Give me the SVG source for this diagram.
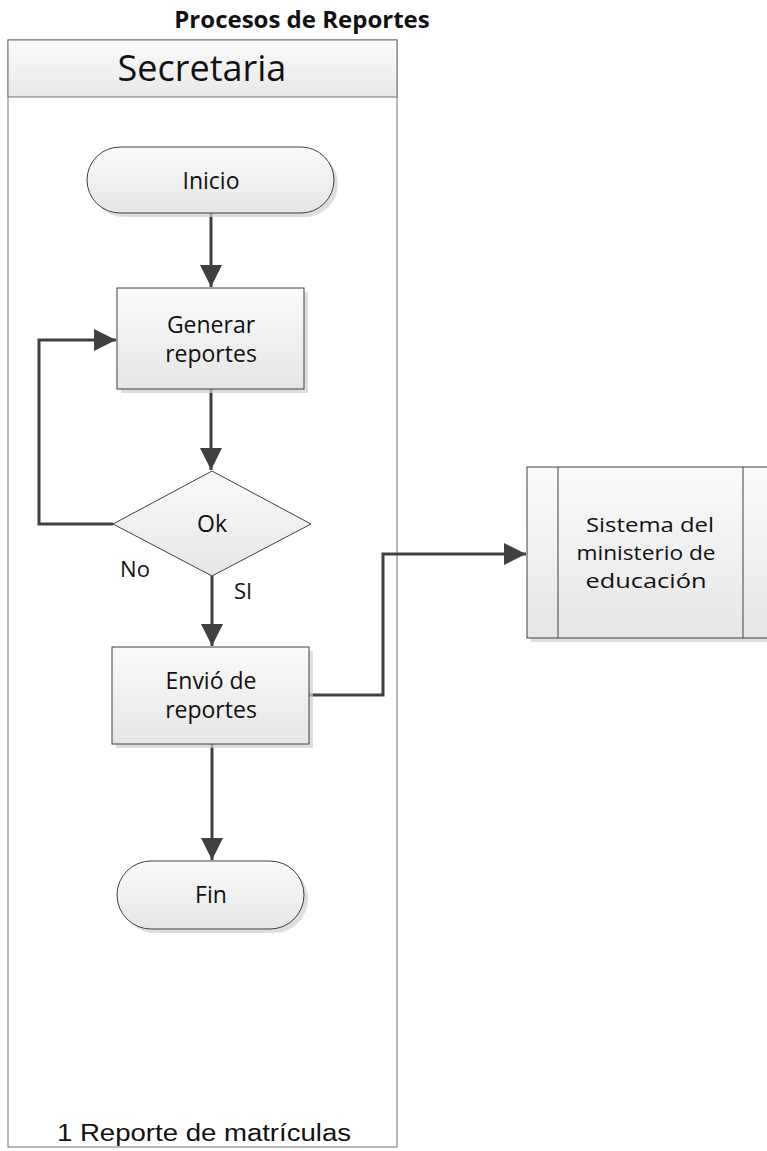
<svg xmlns="http://www.w3.org/2000/svg" width="767" height="1151" viewBox="0 0 767 1151">
  <style>
    .lbl { font-family: "Open Sans", Lato, "Liberation Sans", sans-serif; font-size: 23px; fill: #111; text-anchor: middle; }
    .shape { stroke: #404040; stroke-width: 1; fill: url(#shapeFill); }
    .shadow { fill: #d0d0d0; stroke: none; opacity: 0.7; }
    .conn { fill: none; stroke: #404040; stroke-width: 3; }
  </style>
  <defs>
    <linearGradient id="shapeFill" x1="0" y1="0" x2="0" y2="1">
      <stop offset="0" stop-color="#fafafa"/>
      <stop offset="1" stop-color="#e6e6e6"/>
    </linearGradient>
    <linearGradient id="headFill" x1="0" y1="0" x2="0" y2="1">
      <stop offset="0" stop-color="#fbfbfb"/>
      <stop offset="1" stop-color="#e8e8e8"/>
    </linearGradient>
    <marker id="arrow" viewBox="0 0 10 10" refX="10" refY="5" markerWidth="7.5" markerHeight="7.5" markerUnits="strokeWidth" orient="auto">
      <path d="M0,0 L10,5 L0,10 z" fill="#404040"/>
    </marker>
  </defs>

  <rect width="767" height="1151" fill="#ffffff"/>

  <!-- title -->
  <text x="302" y="28" font-family="'Open Sans', Lato, 'Liberation Sans', sans-serif" font-size="24" font-weight="bold" text-anchor="middle" fill="#111">Procesos de Reportes</text>

  <!-- swimlane -->
  <g id="lane">
    <rect x="8" y="40" width="389" height="1107" fill="#ffffff" stroke="#707070" stroke-width="1"/>
    <rect x="8" y="40" width="389" height="57" fill="url(#headFill)" stroke="#707070" stroke-width="1"/>
    <text x="202" y="81" font-family="'Open Sans', Lato, 'Liberation Sans', sans-serif" font-size="36" text-anchor="middle" fill="#111">Secretaria</text>
    <text x="204" y="1141" font-family="'Liberation Sans', Arial, sans-serif" font-size="23" text-anchor="middle" fill="#111" textLength="294" lengthAdjust="spacingAndGlyphs">1 Reporte de matrículas</text>
  </g>

  <!-- connectors -->
  <g id="connectors">
    <line class="conn" x1="211" y1="213" x2="211" y2="287" marker-end="url(#arrow)"/>
    <line class="conn" x1="211" y1="389" x2="211" y2="470" marker-end="url(#arrow)"/>
    <polyline class="conn" points="113,524 39,524 39,340 116,340" marker-end="url(#arrow)"/>
    <line class="conn" x1="212" y1="576" x2="212" y2="646" marker-end="url(#arrow)"/>
    <line class="conn" x1="212" y1="744" x2="212" y2="860" marker-end="url(#arrow)"/>
    <polyline class="conn" points="309,695 383,695 383,554 526,554" marker-end="url(#arrow)"/>
    <text x="135" y="577" class="lbl" style="font-size:22px">No</text>
    <text x="243" y="599" class="lbl" style="font-size:22px">SI</text>
  </g>

  <!-- Inicio -->
  <g id="inicio">
    <rect class="shadow" x="91" y="151" width="247" height="66" rx="33"/>
    <rect class="shape" x="87" y="147" width="247" height="66" rx="33"/>
    <text class="lbl" x="211" y="189">Inicio</text>
  </g>

  <!-- Generar reportes -->
  <g id="generar">
    <rect class="shadow" x="121" y="292" width="187" height="101"/>
    <rect class="shape" x="117" y="288" width="187" height="101"/>
    <text class="lbl" x="211" y="333">Generar</text>
    <text class="lbl" x="211" y="362">reportes</text>
  </g>

  <!-- Ok decision -->
  <g id="ok">
    <polygon class="shape" points="212,471 311,524 212,576 113,524"/>
    <text class="lbl" x="212" y="532">Ok</text>
  </g>

  <!-- Envío de reportes -->
  <g id="envio">
    <rect class="shadow" x="116" y="651" width="197" height="97"/>
    <rect class="shape" x="112" y="647" width="197" height="97"/>
    <text class="lbl" x="211" y="689">Envió de</text>
    <text class="lbl" x="211" y="718">reportes</text>
  </g>

  <!-- Fin -->
  <g id="fin">
    <rect class="shadow" x="121" y="865" width="187" height="68" rx="34"/>
    <rect class="shape" x="117" y="861" width="187" height="68" rx="34"/>
    <text class="lbl" x="211" y="903">Fin</text>
  </g>

  <!-- Sistema del ministerio de educación -->
  <g id="sistema">
    <rect class="shadow" x="531" y="471" width="240" height="171"/>
    <rect class="shape" x="527" y="467" width="250" height="171"/>
    <line x1="558" y1="467" x2="558" y2="638" stroke="#404040" stroke-width="1"/>
    <line x1="743" y1="467" x2="743" y2="638" stroke="#404040" stroke-width="1"/>
    <text class="lbl" x="650" y="532" style="font-size:20px" textLength="128" lengthAdjust="spacingAndGlyphs">Sistema del</text>
    <text class="lbl" x="646" y="560" style="font-size:20px" textLength="139" lengthAdjust="spacingAndGlyphs">ministerio de</text>
    <text class="lbl" x="646" y="588" style="font-size:20px" textLength="121" lengthAdjust="spacingAndGlyphs">educación</text>
  </g>
</svg>
